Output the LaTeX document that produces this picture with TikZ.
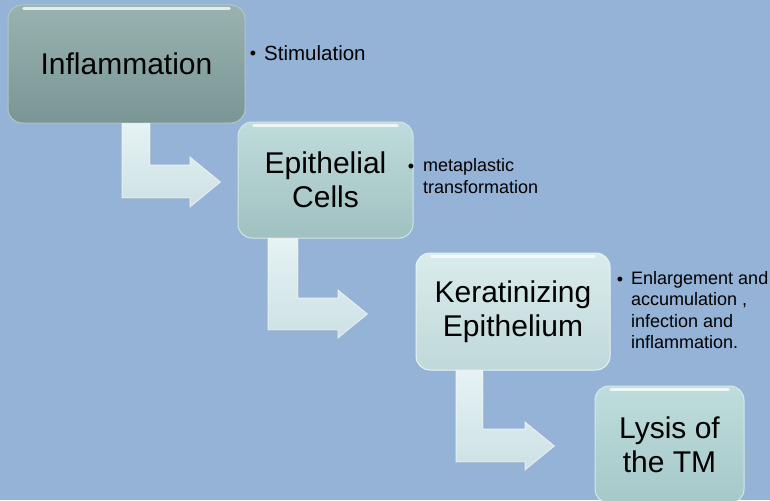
\documentclass[tikz,border=0pt]{standalone}
\usepackage{fontspec}
\setmainfont{Liberation Sans}
\usetikzlibrary{calc}
\definecolor{bg}{HTML}{95B3D7}
\definecolor{c1t}{HTML}{98B2B0}\definecolor{c1b}{HTML}{7A9694}\definecolor{c1d}{HTML}{B0C8C6}
\definecolor{c2t}{HTML}{C0DBDB}\definecolor{c2b}{HTML}{A0C1C1}\definecolor{c2d}{HTML}{D0E6E6}
\definecolor{c3t}{HTML}{DAECEC}\definecolor{c3b}{HTML}{BFD8D9}\definecolor{c3d}{HTML}{E6F3F3}
\definecolor{c4t}{HTML}{BFDDDD}\definecolor{c4b}{HTML}{A5C8C8}\definecolor{c4d}{HTML}{D3EAEA}
\definecolor{at}{HTML}{E6F2F4}\definecolor{ab}{HTML}{CCE1E4}
\tikzset{
  boxbase/.style={rectangle, rounded corners=14pt, inner sep=0pt, align=center,
    font=\fontsize{30}{34}\selectfont, line width=1pt},
  box1/.style={boxbase, top color=c1t, bottom color=c1b, draw=c1d},
  box2/.style={boxbase, top color=c2t, bottom color=c2b, draw=c2d},
  box3/.style={boxbase, top color=c3t, bottom color=c3b, draw=c3d},
  box4/.style={boxbase, top color=c4t, bottom color=c4b, draw=c4d},
  gloss/.style={white, opacity=.75, line width=2.5pt, line cap=round},
  bentarrow/.style={top color=at, bottom color=ab, draw=white, draw opacity=.8, line width=.8pt, line join=miter},
  side/.style={anchor=west, inner sep=0pt, align=left, font=\fontsize{18}{21.5}\selectfont},
  bullet/.style={anchor=base, inner sep=0pt, font=\fontsize{18}{21.5}\selectfont},
}
\begin{document}
\begin{tikzpicture}[x=1pt,y=-1pt]
\useasboundingbox (0,0) rectangle (770,500);
\fill[bg] (0,0) rectangle (770,500);
% boxes
\path
  (126.5,64)  node[box1, minimum width=237pt, minimum height=118pt] (b1) {Inflammation}
  (325.5,180) node[box2, minimum width=175pt, minimum height=116pt] (b2) {Epithelial\\Cells}
  (513,311.5) node[box3, minimum width=194pt, minimum height=117pt] (b3) {Keratinizing\\Epithelium}
  (669.5,444.5) node[box4, minimum width=149pt, minimum height=117pt] (b4) {Lysis of\\the TM};
\foreach \b in {b1,b2,b3,b4}{
  \draw[gloss] ($(\b.north west)+(16,4)$) -- ($(\b.north east)+(-16,4)$);
}
% bent arrows
\fill[bentarrow] (122,0 |- b1.south) -- (150,0 |- b1.south) -- (150,165) -- (190,165) -- (190,157)
  -- ($(b2.west)+(-17,2)$) -- (190,207) -- (190,198) -- (122,198) -- cycle;
\fill[bentarrow] (268,0 |- b2.south) -- (298,0 |- b2.south) -- (298,298) -- (338,298) -- (338,290)
  -- ($(b3.west |- 0,314)+(-48,0)$) -- (338,338) -- (338,330) -- (268,330) -- cycle;
\fill[bentarrow] (456,0 |- b3.south) -- (483,0 |- b3.south) -- (483,429) -- (525,429) -- (525,422)
  -- ($(b4.west |- 0,446)+(-40,0)$) -- (525,470) -- (525,462) -- (456,462) -- cycle;
% side texts
\node[bullet] (d1) at (253,60) {•};
\node[side, font=\fontsize{20.5}{24}\selectfont] (s1) at (264,53) {Stimulation};
\node[bullet] (d2) at (411,172.5) {•};
\node[side] (s2) at (423,176) {metaplastic\\transformation};
\node[bullet] (d3) at (620,285) {•};
\node[side] (s3) at (631,310) {Enlargement and\\accumulation ,\\infection and\\inflammation.};
\end{tikzpicture}
\end{document}
